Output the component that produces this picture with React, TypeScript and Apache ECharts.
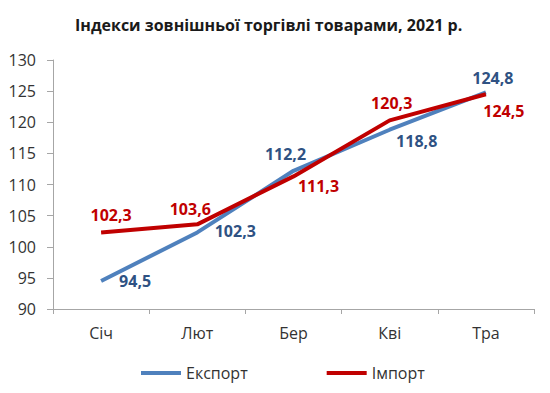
import React, { useEffect, useRef } from "react";
import * as echarts from "echarts";

const title = "Індекси зовнішньої торгівлі товарами, 2021 р.";
const categories = ["Січ", "Лют", "Бер", "Кві", "Тра"];
const exportValues = [94.5, 102.3, 112.2, 118.8, 124.8];
const importValues = [102.3, 103.6, 111.3, 120.3, 124.5];
const exportLabelOffsets = [[34, 0], [38, -1], [-8, -17], [27, 11], [7, -14]];
const importLabelOffsets = [[10, -17], [-7, -15], [25, 10], [2, -17], [18, 17]];

const FONT = "'Open Sans', 'Noto Sans', sans-serif";

function fmt(v: number) {
  return v.toFixed(1).replace(".", ",");
}

function buildData(values: number[], offsets: number[][]) {
  return values.map((v, i) => ({
    value: v,
    label: { offset: offsets[i] },
  }));
}

export default function App() {
  const ref = useRef<HTMLDivElement>(null);
  useEffect(() => {
    if (!ref.current) return;
    const chart = echarts.init(ref.current, undefined, { renderer: "svg" });
    const labelBase = {
      show: true,
      position: "inside",
      align: "center",
      verticalAlign: "middle",
      fontFamily: FONT,
      fontWeight: "bold",
      fontSize: 16,
      formatter: (p: any) => fmt(p.value),
    };
    chart.setOption({
      animation: false,
      backgroundColor: "#ffffff",
      title: {
        text: title,
        left: 70,
        top: 12,
        textStyle: { fontFamily: FONT, fontWeight: "bold", fontSize: 16, color: "#1a1a1a" },
      },
      legend: {
        bottom: 7,
        left: 136,
        itemWidth: 40,
        itemHeight: 4,
        itemGap: 79,
        icon: "rect",
        textStyle: { fontFamily: FONT, fontSize: 16, color: "#333333" },
        data: ["Експорт", "Імпорт"],
      },
      grid: { left: 53, right: 16, top: 60, bottom: 84 },
      xAxis: {
        type: "category",
        data: categories,
        boundaryGap: true,
        axisLine: { lineStyle: { color: "#A6A6A6" } },
        axisTick: { show: true, length: 5, lineStyle: { color: "#A6A6A6" } },
        axisLabel: { fontFamily: FONT, fontSize: 16, color: "#333333", margin: 16 },
      },
      yAxis: {
        type: "value",
        min: 90,
        max: 130,
        interval: 5,
        splitLine: { show: false },
        axisLine: { show: true, lineStyle: { color: "#A6A6A6" } },
        axisTick: { show: true, length: 6, lineStyle: { color: "#A6A6A6" } },
        axisLabel: { fontFamily: FONT, fontSize: 16, color: "#333333", margin: 17 },
      },
      series: [
        {
          name: "Експорт",
          type: "line",
          data: buildData(exportValues, exportLabelOffsets),
          symbol: "circle",
          symbolSize: 0.1,
          lineStyle: { width: 4, color: "#4F81BD" },
          itemStyle: { color: "#4F81BD" },
          label: { ...labelBase, color: "#2F5283" },
          z: 2,
        },
        {
          name: "Імпорт",
          type: "line",
          data: buildData(importValues, importLabelOffsets),
          symbol: "circle",
          symbolSize: 0.1,
          lineStyle: { width: 4, color: "#C00000" },
          itemStyle: { color: "#C00000" },
          label: { ...labelBase, color: "#C00000" },
          z: 3,
        },
      ],
    });
    return () => chart.dispose();
  }, []);
  return <div ref={ref} style={{ width: 550, height: 393, position: "absolute", left: 0, top: 0 }} />;
}
